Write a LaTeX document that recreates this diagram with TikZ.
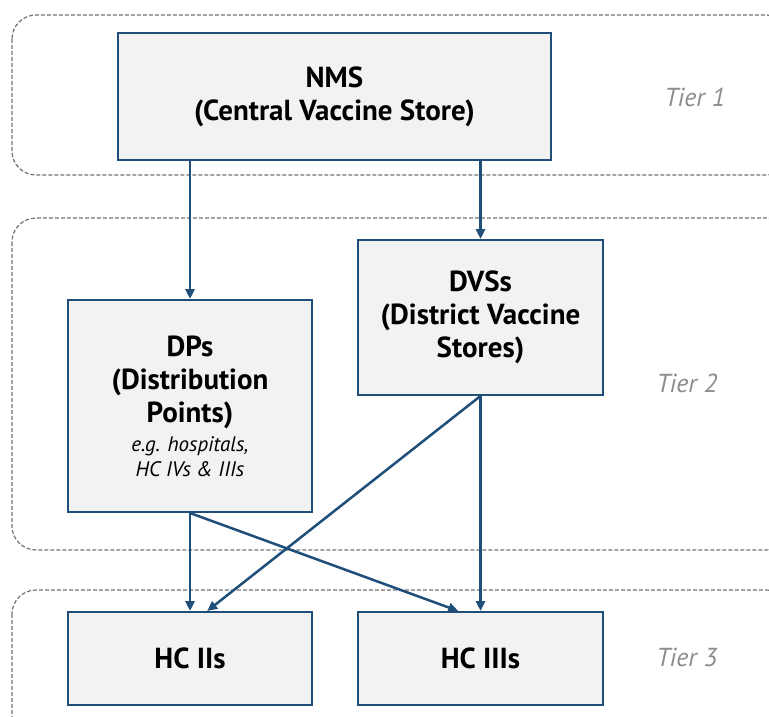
\documentclass[tikz,border=0pt]{standalone}
\usepackage{fontspec}
\setmainfont{PT Sans}
\usetikzlibrary{arrows.meta,calc}
\definecolor{navy}{HTML}{1F4E79}
\definecolor{boxfill}{HTML}{F2F2F2}
\definecolor{tiergray}{HTML}{8C8C8C}
\definecolor{dashgray}{HTML}{737373}
\newcommand\dpnote{\normalfont\itshape\fontsize{21}{25}\selectfont}
\tikzset{
  box/.style={draw=navy, line width=2pt, fill=boxfill, rectangle, align=center,
    font=\bfseries\fontsize{29}{33}\selectfont, inner sep=0pt},
  tierbox/.style={draw=dashgray, dash pattern=on 4pt off 2pt, line width=1.2pt, rounded corners=24pt},
  tierlabel/.style={text=tiergray, font=\itshape\fontsize{26}{30}\selectfont},
  arr/.style={draw=navy, line width=2.5pt, -{Triangle[length=10pt,width=9pt]}},
}
\begin{document}
\begin{tikzpicture}[x=1pt,y=-1pt]
\useasboundingbox (0,0) rectangle (769,717);
% tier containers
\draw[tierbox] (12,15) rectangle (790,175);
\draw[tierbox] (12,218) rectangle (790,550);
\draw[tierbox] (12,590) rectangle (790,740);
% nodes
\node[box, minimum width=433pt, minimum height=127pt] (nms) at (334.5,96.5) {NMS\\(Central Vaccine Store)};
\node[box, minimum width=245pt, minimum height=155pt] (dvs) at (480.5,317.5) {DVSs\\(District Vaccine\\Stores)};
\node[box, minimum width=244pt, minimum height=212pt] (dps) at (190,406)
  {DPs\\(Distribution\\Points)\\[-4pt]{\dpnote e.g. hospitals,}\\[-8pt]{\dpnote HC IVs \& IIIs}};
\node[box, minimum width=244pt, minimum height=93pt] (hc2) at (190,658.5) {HC IIs};
\node[box, minimum width=245pt, minimum height=93pt] (hc3) at (480.5,658.5) {HC IIIs};
% tier labels
\node[tierlabel] (t1) at (695,97) {Tier 1};
\node[tierlabel] (t2) at (687,383) {Tier 2};
\node[tierlabel] (t3) at (687,657) {Tier 3};
% connectors
\draw[arr] (nms.south -| dps.north) -- (dps.north);
\draw[arr] (nms.south -| dvs.north) -- (dvs.north);
\draw[arr] (dps.south) -- (hc2.north);
\draw[arr] (dps.south) -- ($(hc3.north west)!0.41!(hc3.north east)$);
\draw[arr] (dvs.south) -- ($(hc2.north west)!0.57!(hc2.north east)$);
\draw[arr] (dvs.south) -- (hc3.north);
\end{tikzpicture}
\end{document}
